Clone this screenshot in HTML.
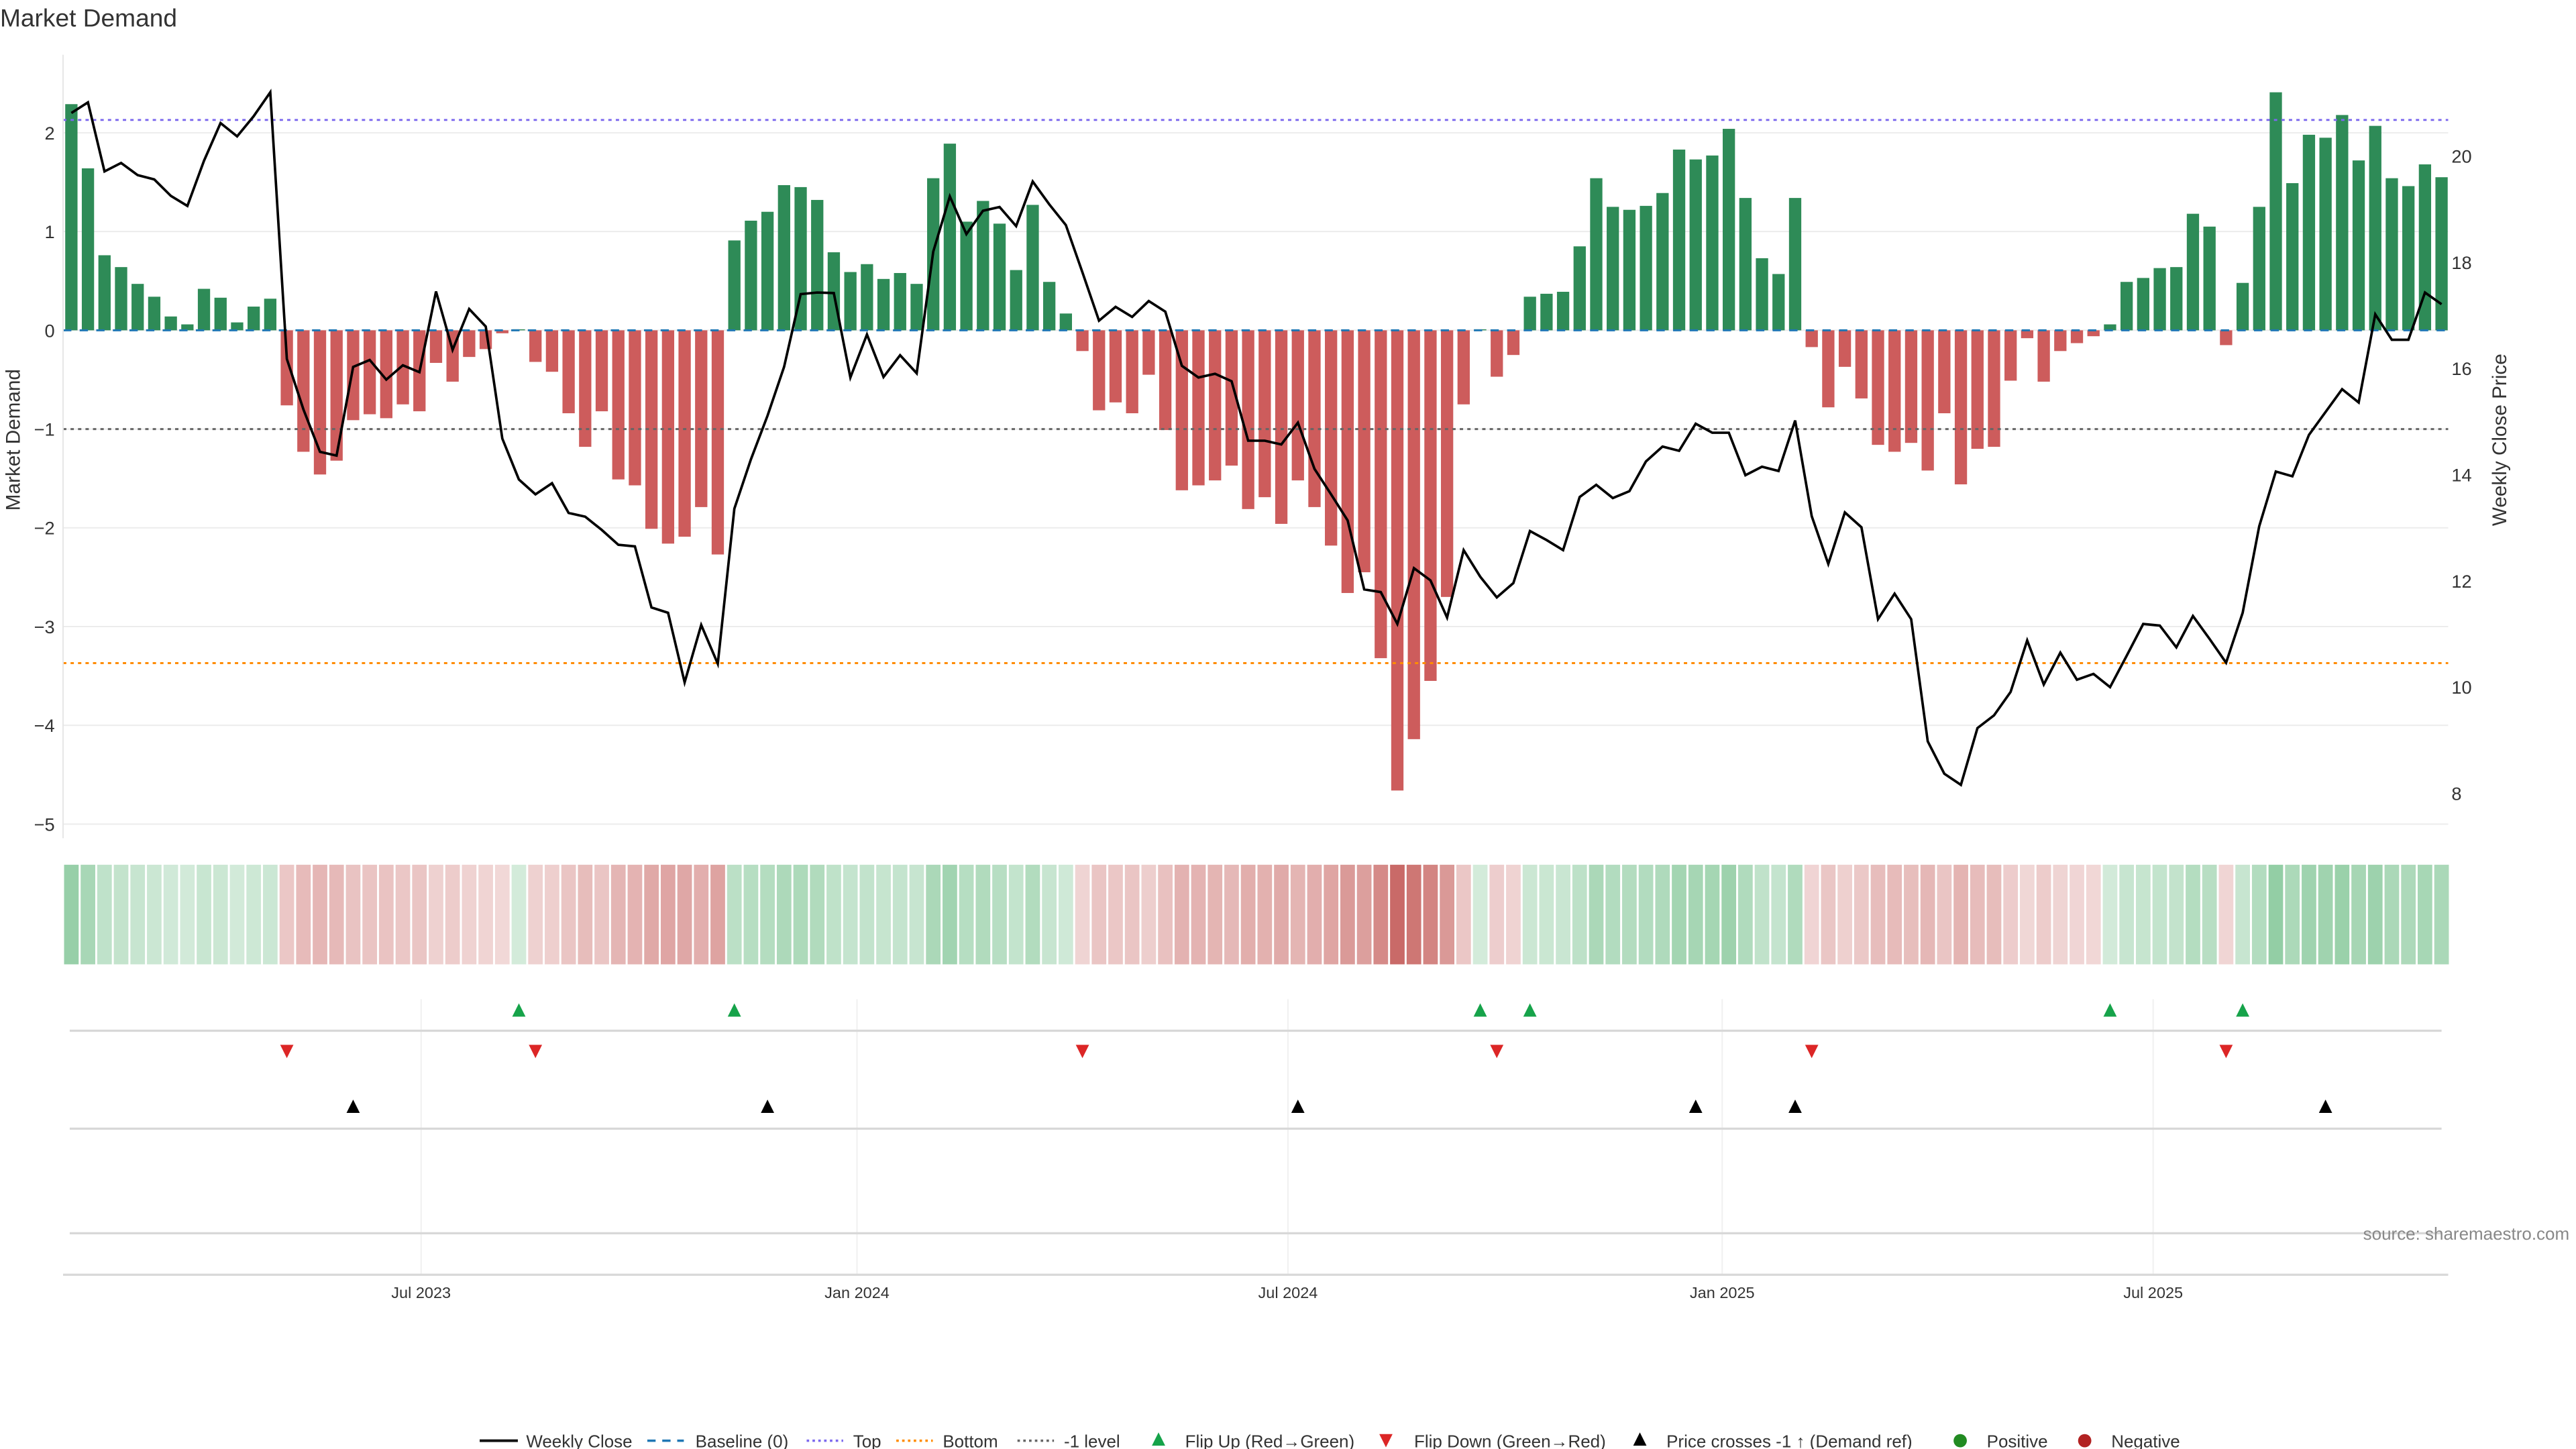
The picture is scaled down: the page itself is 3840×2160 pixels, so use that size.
<!DOCTYPE html>
<html><head><meta charset="utf-8"><title>Market Demand</title>
<style>
html,body{margin:0;padding:0;background:#fff;}
svg{display:block;font-family:"Liberation Sans","DejaVu Sans",sans-serif;}
</style></head>
<body>
<svg id="chart" width="3840" height="2160" viewBox="0 0 1552 873" preserveAspectRatio="none" xmlns="http://www.w3.org/2000/svg">
<text x="0" y="16" font-size="15" fill="#333">Market Demand</text>
<g id="grid"></g>
<g id="strip"></g>
<g id="bars"></g>
<g id="refs"></g>
<g id="price"></g>
<g id="markers"></g>
<g id="axes"></g>
<text transform="translate(12,265) rotate(-90)" text-anchor="middle" font-size="12" fill="#333">Market Demand</text>
<text transform="translate(1510,265) rotate(-90)" text-anchor="middle" font-size="12" fill="#333">Weekly Close Price</text>
<text x="1548" y="747" text-anchor="end" font-size="10.5" fill="#888">source: sharemaestro.com</text>
<g id="legend" font-size="10.5" fill="#333">
  <g><line x1="289" y1="868" x2="312" y2="868" stroke="#111" stroke-width="1.6"/><text x="317" y="872">Weekly Close</text></g>
  <g><line x1="390" y1="868" x2="412" y2="868" stroke="#1f77b4" stroke-width="1.4" stroke-dasharray="5,4"/><text x="419" y="872">Baseline (0)</text></g>
  <g><line x1="486" y1="868" x2="508" y2="868" stroke="#7b68ee" stroke-width="1.4" stroke-dasharray="1.5,2"/><text x="514" y="872">Top</text></g>
  <g><line x1="540" y1="868" x2="562" y2="868" stroke="#ff8c00" stroke-width="1.4" stroke-dasharray="1.5,2"/><text x="568" y="872">Bottom</text></g>
  <g><line x1="613" y1="868" x2="635" y2="868" stroke="#666" stroke-width="1.4" stroke-dasharray="1.5,2"/><text x="641" y="872">-1 level</text></g>
  <g><path d="M698,863 L702,871 L694,871 Z" fill="#16a34a"/><text x="714" y="872">Flip Up (Red→Green)</text></g>
  <g><path d="M831,864 L839,864 L835,872 Z" fill="#dc2626"/><text x="852" y="872">Flip Down (Green→Red)</text></g>
  <g><path d="M988,863 L992,871 L984,871 Z" fill="#000"/><text x="1004" y="872">Price crosses -1 ↑ (Demand ref)</text></g>
  <g><circle cx="1181" cy="868" r="4" fill="#228b22"/><text x="1197" y="872">Positive</text></g>
  <g><circle cx="1256" cy="868" r="4" fill="#b22222"/><text x="1272" y="872">Negative</text></g>
</g>
</svg>
<script>
const demand = [2.29,1.64,0.76,0.64,0.47,0.34,0.14,0.06,0.42,0.33,0.08,0.24,0.32,
-0.76,-1.23,-1.46,-1.32,-0.91,-0.85,-0.89,-0.75,-0.82,-0.33,-0.52,-0.27,-0.19,-0.03,0.01,-0.32,-0.42,-0.84,-1.18,-0.82,-1.51,-1.57,-2.01,-2.16,-2.09,-1.79,-2.27,
0.91,1.11,1.20,1.47,1.45,1.32,0.79,0.59,0.67,0.52,0.58,0.47,1.54,1.89,1.10,1.31,1.08,0.61,1.27,0.49,0.17,
-0.21,-0.81,-0.73,-0.84,-0.45,-1.01,-1.62,-1.57,-1.52,-1.37,-1.81,-1.69,-1.96,-1.52,-1.79,-2.18,-2.66,-2.45,-3.32,-4.66,-4.14,-3.55,-2.70,-0.75,
0.01,-0.47,-0.25,
0.34,0.37,0.39,0.85,1.54,1.25,1.22,1.26,1.39,1.83,1.73,1.77,2.04,1.34,0.73,0.57,1.34,
-0.17,-0.78,-0.37,-0.69,-1.16,-1.23,-1.14,-1.42,-0.84,-1.56,-1.20,-1.18,-0.51,-0.08,-0.52,-0.21,-0.13,-0.06,
0.06,0.49,0.53,0.63,0.64,1.18,1.05,
-0.15,
0.48,1.25,2.41,1.49,1.98,1.95,2.18,1.72,2.07,1.54,1.46,1.68,1.55];
const price = [20.81,21.01,19.71,19.87,19.64,19.56,19.25,19.06,19.91,20.62,20.37,20.75,21.20,16.18,15.23,14.43,14.36,16.03,16.16,15.79,16.06,15.93,17.45,16.35,17.12,16.79,14.68,13.91,13.63,13.84,13.28,13.21,12.96,12.68,12.65,11.50,11.40,10.09,11.17,10.44,13.36,
14.29,15.11,16.03,17.40,17.43,17.42,15.83,16.64,15.84,16.25,15.91,18.20,19.24,18.53,18.97,19.04,18.68,19.52,19.09,18.70,17.81,16.90,17.16,16.97,17.27,17.07,16.05,15.83,15.90,15.76,14.64,14.64,14.57,14.98,14.11,13.63,13.14,11.84,11.79,11.19,
12.24,12.01,11.31,12.58,12.08,11.69,11.96,12.94,12.77,12.58,13.58,13.81,13.56,13.69,14.25,14.53,14.45,14.96,14.79,14.79,13.99,14.15,14.07,15.02,13.22,12.32,13.29,13.01,11.28,11.76,11.28,8.98,8.37,8.16,9.23,9.47,9.91,10.88,10.05,
10.65,10.14,10.25,10.0,10.59,11.19,11.16,10.75,11.34,10.91,10.46,11.40,13.03,14.06,13.97,14.75,15.18,15.61,15.36,17.02,16.54,16.54,17.43,17.21];
const flipUpIdx = [27,40,85,88,123,131];
const flipDownIdx = [13,28,61,86,105,130];
const crossIdx = [17,42,74,98,104,136];
const xTickIdx = [21.1,47.4,73.4,99.6,125.6];
const xTickLabels = ["Jul 2023","Jan 2024","Jul 2024","Jan 2025","Jul 2025"];
const demandTicks = [2,1,0,-1,-2,-3,-4,-5];
const priceTicks = [20,18,16,14,12,10,8];
const topLevel = 2.13, bottomLevel = -3.37, minusOneLevel = -1;

const NS = "http://www.w3.org/2000/svg";
const X0 = 43, PITCH = (1471 - 43) / 143, BW = 7.4;
function xS(i){ return X0 + PITCH * i; }
function yD(v){ return 199 - 59.5 * v; }
function yP(p){ return 94 + (20 - p) * 32; }
function mk(tag, attrs, parent){
  const el = document.createElementNS(NS, tag);
  for (const k in attrs) el.setAttribute(k, attrs[k]);
  parent.appendChild(el);
  return el;
}
const grid = document.getElementById('grid');
const axes = document.getElementById('axes');
const L = 38, R = 1475;

demandTicks.forEach(t => {
  const g = mk('line', {x1:L, x2:R, y1:yD(t), y2:yD(t), stroke:'#ececec', 'stroke-width':0.8}, grid);
  
  
  const tx = mk('text', {x:33, y:yD(t)+4, 'text-anchor':'end', 'font-size':11, fill:'#333'}, axes);
  tx.textContent = t < 0 ? '\u2212' + Math.abs(t) : String(t);
  
  
});
priceTicks.forEach(t => {
  const tx = mk('text', {x:1477, y:yP(t)+4, 'font-size':11, fill:'#333'}, axes);
  tx.textContent = String(t);
  
  
});
const yax = mk('line', {x1:L, x2:L, y1:33, y2:505, stroke:'#e6e6e6', 'stroke-width':0.8}, axes);



// lower panels
xTickIdx.forEach((ti, k) => {
  const x = xS(ti);
  const v = mk('line', {x1:x, x2:x, y1:602, y2:768, stroke:'#f0f0f0', 'stroke-width':0.8}, grid);
  
  
  const tx = mk('text', {x:x, y:782, 'text-anchor':'middle', 'font-size':9.5, fill:'#333'}, axes);
  tx.textContent = xTickLabels[k];
  
  
});
[621,680,743].forEach(y => {
  const l = mk('line', {x1:42, x2:1471, y1:y, y2:y, stroke:'#d8d8d8', 'stroke-width':1.3}, grid);
  
  
});
const xax = mk('line', {x1:L, x2:R, y1:768, y2:768, stroke:'#d8d8d8', 'stroke-width':1.3}, axes);



// heat strip
const strip = document.getElementById('strip');
const maxAbs = Math.max(...demand.map(Math.abs));
function mix(base, a){
  return 'rgb(' + base.map(c => Math.round(255 - a * (255 - c))).join(',') + ')';
}
demand.forEach((v, i) => {
  const a = 0.22 + 0.63 * Math.abs(v) / maxAbs;
  const c = v >= 0 ? mix([58,165,90], a) : mix([192,80,77], a);
  const r = mk('rect', {x:xS(i)-PITCH/2+0.6, y:521, width:PITCH-1.2, height:60, fill:c}, strip);
  
  
});

// bars
const bars = document.getElementById('bars');
demand.forEach((v, i) => {
  const y0 = yD(0), y1 = yD(v);
  const r = mk('rect', {x:xS(i)-BW/2, y:Math.min(y0,y1), width:BW, height:Math.max(Math.abs(y1-y0),0.01), fill: v >= 0 ? '#2e8b57' : '#cd5c5c'}, bars);
  
  
});

// reference lines
const refs = document.getElementById('refs');
const rb = mk('line', {x1:L, x2:R, y1:yD(0), y2:yD(0), stroke:'#1f77b4', 'stroke-width':1.2, 'stroke-dasharray':'5,5'}, refs);


const rt = mk('line', {x1:L, x2:R, y1:yD(topLevel), y2:yD(topLevel), stroke:'#7b68ee', 'stroke-width':1.2, 'stroke-dasharray':'2,2.5'}, refs);


const rbo = mk('line', {x1:L, x2:R, y1:yD(bottomLevel), y2:yD(bottomLevel), stroke:'#ff8c00', 'stroke-width':1.2, 'stroke-dasharray':'2,2.5'}, refs);


const rm = mk('line', {x1:L, x2:R, y1:yD(minusOneLevel), y2:yD(minusOneLevel), stroke:'#666', 'stroke-width':1.2, 'stroke-dasharray':'2,2.5'}, refs);



// price line
const pg = document.getElementById('price');
const pts = price.map((p, i) => xS(i).toFixed(2) + ',' + yP(p).toFixed(2)).join(' ');
const pl = mk('polyline', {points:pts, fill:'none', stroke:'#000', 'stroke-width':1.5, 'stroke-linejoin':'miter'}, pg);



// markers
const mg = document.getElementById('markers');
function tri(x, y, up, color){
  const d = up ? `M${x},${y-4.5} L${x+4},${y+3.5} L${x-4},${y+3.5} Z` : `M${x-4},${y-3.5} L${x+4},${y-3.5} L${x},${y+4.5} Z`;
  return mk('path', {d:d, fill:color}, mg);
}
flipUpIdx.forEach(i => {
  const t = tri(xS(i), 609, true, '#16a34a');
  
  
});
flipDownIdx.forEach(i => {
  const t = tri(xS(i), 633, false, '#dc2626');
  
  
});
crossIdx.forEach(i => {
  const t = tri(xS(i), 667, true, '#000');
  
  
});
</script>
</body></html>
